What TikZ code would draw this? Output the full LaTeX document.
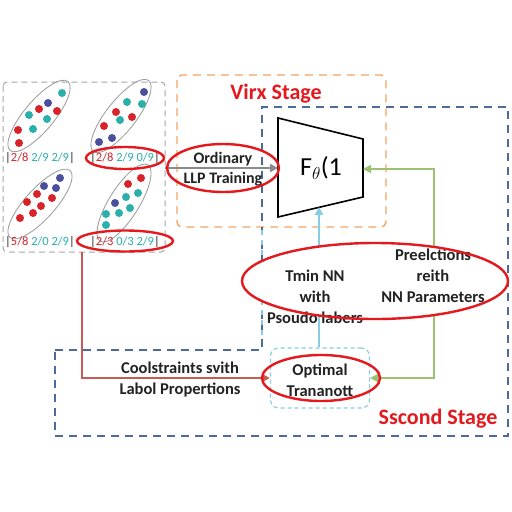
\documentclass[tikz,border=0pt]{standalone}
\usepackage{fontspec}
\setmainfont{Carlito}
\usetikzlibrary{shapes.geometric,arrows.meta}
\definecolor{dotred}{HTML}{D9232B}
\definecolor{dotteal}{HTML}{2AAFAA}
\definecolor{dotblue}{HTML}{4A4F9E}
\definecolor{ored}{HTML}{E3191E}
\definecolor{orng}{HTML}{F2A465}
\definecolor{dblue}{HTML}{4D6B98}
\definecolor{lcyan}{HTML}{86CCE4}
\definecolor{lgreen}{HTML}{9DC173}
\definecolor{brred}{HTML}{C65B55}
\definecolor{txt}{HTML}{222222}
\definecolor{garr}{HTML}{8A8A8A}
\tikzset{
  oval/.style={draw=gray!80, line width=0.8pt, ellipse, minimum width=90, minimum height=30, inner sep=0},
  hl/.style={draw=ored, line width=2.4pt, ellipse, inner sep=0},
  lab/.style={font=\fontsize{16.5}{21}\selectfont\bfseries, text=txt, align=center, inner sep=0},
  frac/.style={font=\fontsize{12.5}{13}\selectfont, inner sep=0},
  stagetitle/.style={font=\fontsize{22}{24}\selectfont\bfseries, text=ored, inner sep=0},
  conn/.style={line width=2.6pt, -{Triangle[length=8pt,width=8pt]}},
}
\newcommand{\rd}[2]{\fill[dotred] (#1,#2) circle (4pt);}
\newcommand{\tl}[2]{\fill[dotteal] (#1,#2) circle (4pt);}
\newcommand{\bl}[2]{\fill[dotblue] (#1,#2) circle (4pt);}
\begin{document}
\begin{tikzpicture}[x=1pt,y=-1pt]
\useasboundingbox (0,0) rectangle (512,512);
\fill[white] (0,0) rectangle (512,512);
% boxes
\draw[gray!70, line width=1pt, rounded corners=4pt, dash pattern=on 6pt off 4pt] (3,82) rectangle (165,252);
\draw[orng, line width=1.4pt, rounded corners=5pt, dash pattern=on 8pt off 6pt] (177,75) rectangle (386,227);
\draw[dblue, line width=1.2pt, dash pattern=on 8pt off 6pt] (55,350) -- (262,350) -- (262,107) -- (508,107) -- (508,436) -- (55,436) -- cycle;
\draw[lcyan, line width=1.2pt, dash pattern=on 5pt off 5pt] (262,230) -- (262,340);
% titles
\node[stagetitle] (t1) at (276,94) {Virx Stage};
\node[stagetitle] (t2) at (438,419) {Sscond Stage};
% ovals with dots
\node[oval, rotate=50] (o1) at (39,116) {};
\node[oval, rotate=52] (o2) at (121,116) {};
\node[oval, rotate=48] (o3) at (40,204) {};
\node[oval, rotate=58] (o4) at (124,203) {};
\tl{62}{93}\bl{48}{103}\rd{39}{109}\rd{57}{111}\tl{29}{115}\tl{47}{119}\tl{33}{129}\rd{18}{130}\rd{19}{143}
\bl{144}{92}\tl{127}{102}\tl{142}{104}\rd{116}{112}\rd{132}{117}\tl{120}{120}\rd{104}{126}\bl{112}{138}\bl{99}{142}
\bl{60}{178}\bl{44}{186}\bl{56}{188}\rd{37}{194}\rd{52}{198}\rd{27}{202}\rd{41}{206}\rd{33}{213}\rd{20}{218}
\rd{141}{178}\rd{128}{184}\tl{138}{193}\tl{126}{197}\bl{115}{203}\tl{130}{208}\tl{119}{213}\tl{106}{214}\tl{106}{225}
% fraction labels
\node[frac] (f1) at (40,158) {\textcolor{txt}{|}\textcolor{dotred}{2/8} \textcolor{dotteal}{2/9 2/9}\textcolor{txt}{|}};
\node[frac] (f2) at (125,158) {\textcolor{txt}{|}\textcolor{dotred}{2/8} \textcolor{dotteal}{2/9 0/9}\textcolor{txt}{|}};
\node[frac] (f3) at (40,242) {\textcolor{txt}{|}\textcolor{dotred}{5/8} \textcolor{dotteal}{2/0 2/9}\textcolor{txt}{|}};
\node[frac] (f4) at (125,242) {\textcolor{txt}{|}\textcolor{dotred}{2/3} \textcolor{dotteal}{0/3 2/9}\textcolor{txt}{|}};
\node[hl, minimum width=78, minimum height=22] (h1) at (125,158) {};
\node[hl, minimum width=96, minimum height=21] (h2) at (125,241) {};
% trapezoid
\coordinate (tTL) at (278,118);
\coordinate (tTR) at (363,139);
\coordinate (tBR) at (363,197);
\coordinate (tBL) at (278,217);
\draw[black, line width=1.6pt, line join=miter] (tTL) -- (tTR) -- (tBR) -- (tBL) -- cycle;
\node[font=\fontsize{26}{28}\selectfont, inner sep=0] (F) at (321,168) {F$_{\theta}$(1};
\coordinate (tL) at (278,168);
\coordinate (tR) at (363,169);
\coordinate (tB) at (319,207);
% optimal transport
\node[draw=lcyan, line width=1.2pt, dash pattern=on 4pt off 3pt, rounded corners=8pt, minimum width=99, minimum height=60] (ot) at (320,378) {};
% connectors
\coordinate (gs) at (165,168);
\draw[conn, garr] (gs) -- (tL);
\coordinate (rs) at (82,252);
\draw[conn, brred, line width=2.2pt] (rs) |- (ot.west);
\draw[conn, lcyan] (ot.north -| tB) -- (tB);
\coordinate (gc) at (434,378);
\draw[line width=2.6pt, lgreen, {Triangle[length=8pt,width=8pt]}-{Triangle[length=8pt,width=8pt]}] (ot.east) -- (gc) |- (tR);
% ordinary label
\node[lab, font=\fontsize{16}{20}\selectfont\bfseries] (ord) at (223,169) {Ordinary\\LLP Training};
\node[hl, minimum width=112, minimum height=48] (h3) at (223,168) {};
% big ellipse
\node[ellipse, fill=white, minimum width=266, minimum height=76] (bige) at (375,281) {};
\node[lab] (tmin) at (315,297) {Tmin NN\\with\\Psoudo labers};
\node[lab] (pred) at (433,276) {Preelctions\\reith\\NN Parameters};
\node[hl, minimum width=266, minimum height=76] (h4) at (375,281) {};
% bottom labels
\node[lab] (cons) at (180,380) {Coolstraints svith\\Labol Propertions};
\node[lab] (otl) at (320,380) {Optimal\\Trananott};
\node[hl, minimum width=118, minimum height=46] (h5) at (321,378) {};
\end{tikzpicture}
\end{document}
